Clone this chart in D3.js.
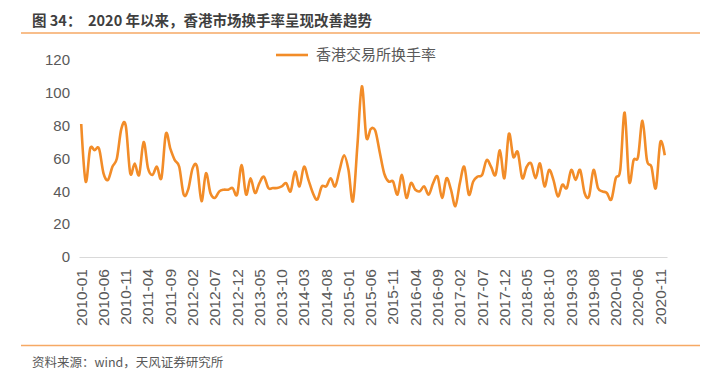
<!DOCTYPE html>
<html>
<head>
<meta charset="utf-8">
<script src="https://cdn.jsdelivr.net/npm/d3@7"></script>
<style>
  body { margin: 0; background: #fff; }
  svg { display: block; font-family: "Liberation Sans", Arial, sans-serif; }
  .cjk { font-family: "Noto Sans CJK SC", "Liberation Sans", sans-serif; }
  .axis text { fill: #595959; }
</style>
</head>
<body>
<svg id="chart" width="720" height="381"></svg>
<script>
// HKEX monthly turnover rate, 2010-01 .. 2020-12
const START_YEAR = 2010;
const N_MONTHS = 132;

const TURNOVER = [
  81, 46, 66, 65, 66, 51, 47, 55, 60, 78, 80, 51,
  57, 50, 70, 54, 50, 55, 48, 75, 66, 59, 55, 38,
  41, 54, 55, 34, 51, 39, 36, 40, 41, 41, 42, 38,
  56, 38, 48, 39, 45, 49, 42, 42, 42, 43, 45, 40,
  52, 43, 55, 47, 39, 35, 43, 43, 48, 43, 53, 62,
  53, 34, 68, 104, 73, 78, 77, 64, 51, 46, 46, 38,
  50, 36, 45, 41, 40, 43, 38, 45, 49, 36, 48, 41,
  31, 45, 55, 38, 46, 49, 50, 59, 55, 50, 65, 48,
  75, 61, 64, 48, 55, 57, 48, 57, 43, 53, 47, 37,
  44, 42, 53, 47, 53, 39, 37, 53, 42, 40, 39, 35,
  48, 53, 88, 46, 59, 61, 83, 59, 55, 42, 70, 62,
];

const Y_TICKS = [0, 20, 40, 60, 80, 100, 120];
const TITLE = "图 34：  2020 年以来，香港市场换手率呈现改善趋势";
const LEGEND = "香港交易所换手率";
const SOURCE = "资料来源：wind，天风证券研究所";

const MONTHS = d3.range(N_MONTHS).map((i) => {
  const y = START_YEAR + Math.floor(i / 12);
  const m = (i % 12) + 1;
  return `${y}-${String(m).padStart(2, "0")}`;
});
const data = MONTHS.map((m, i) => ({ month: m, value: TURNOVER[i] }));

const svg = d3.select("#chart");
const LINE_COLOR = "#F28C28";
const RULE_COLOR = "#F6A964";

const x = d3.scaleBand().domain(MONTHS).range([79, 667]);
const y = d3.scaleLinear().domain([0, 120]).range([257, 60]);

// title and rules
svg.append("text")
  .attr("class", "cjk")
  .attr("x", 32).attr("y", 26)
  .attr("font-size", 14.5).attr("font-weight", "bold")
  .attr("fill", "#3f3f3f")
  .attr("xml:space", "preserve")
  .text(TITLE);
svg.append("line")
  .attr("x1", 21).attr("x2", 700).attr("y1", 33).attr("y2", 33)
  .attr("stroke", RULE_COLOR).attr("stroke-width", 1.5);
svg.append("line")
  .attr("x1", 21).attr("x2", 700).attr("y1", 345.5).attr("y2", 345.5)
  .attr("stroke", RULE_COLOR).attr("stroke-width", 1.5);
svg.append("text")
  .attr("class", "cjk")
  .attr("x", 32).attr("y", 367)
  .attr("font-size", 12.5).attr("fill", "#595959")
  .text(SOURCE);

// y axis: labels only
const gy = svg.append("g").attr("class", "axis y")
  .attr("transform", "translate(79,0)")
  .call(d3.axisLeft(y).tickValues(Y_TICKS).tickSize(0).tickPadding(9));
gy.select(".domain").remove();
gy.selectAll("text").attr("font-size", 15).attr("font-family", "Liberation Sans, Arial, sans-serif");

// x axis
const every5 = MONTHS.filter((d, i) => i % 5 === 0);
const gx = svg.append("g").attr("class", "axis x")
  .attr("transform", `translate(0,${y(0)})`)
  .call(d3.axisBottom(x).tickValues(every5).tickSize(0));
gx.select(".domain").attr("stroke", "#d9d9d9").attr("stroke-width", 1);
gx.selectAll("text")
  .attr("font-size", 15.5)
  .attr("font-family", "Liberation Sans, Arial, sans-serif")
  .attr("text-anchor", "end")
  .attr("transform", "rotate(-90)")
  .attr("x", -12).attr("y", 0).attr("dy", "0.35em");

// series line
const line = d3.line()
  .x((d) => x(d.month) + x.bandwidth() / 2)
  .y((d) => y(d.value))
  .curve(d3.curveCardinal.tension(0));
svg.append("path")
  .datum(data)
  .attr("fill", "none")
  .attr("stroke", LINE_COLOR)
  .attr("stroke-width", 2.6)
  .attr("stroke-linejoin", "round")
  .attr("d", line);

// legend
const lg = svg.append("g").attr("transform", "translate(276,55)");
lg.append("line").attr("x1", 0).attr("x2", 32).attr("y1", 0).attr("y2", 0)
  .attr("stroke", LINE_COLOR).attr("stroke-width", 2.6);
lg.append("text").attr("class", "cjk")
  .attr("x", 40).attr("y", 0).attr("dy", "0.35em")
  .attr("font-size", 15).attr("fill", "#595959")
  .text(LEGEND);
</script>
</body>
</html>
